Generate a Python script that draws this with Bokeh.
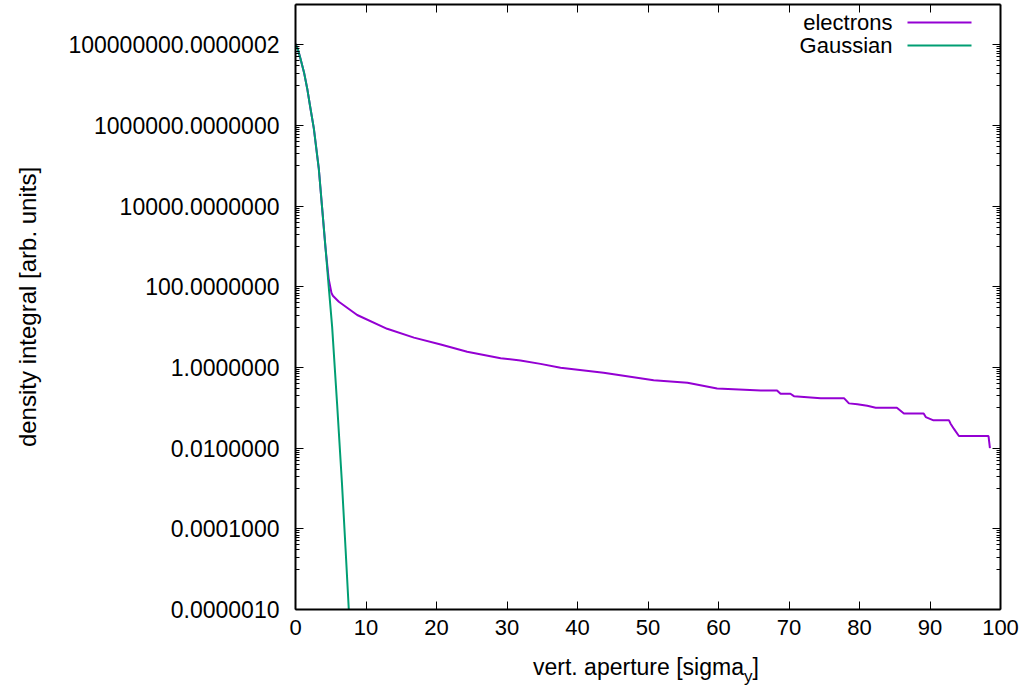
from bokeh.plotting import figure
from bokeh.models import (FixedTicker, LogAxis, LinearAxis, Label, BoxAnnotation, Range1d,
                          CustomLabelingPolicy, Div)
from bokeh.layouts import column
from bokeh.embed import file_html
from bokeh.resources import INLINE

# ---- data ----
gauss_x = [0.0, 0.35, 0.7, 1.2, 1.66, 2.1, 2.6, 3.3, 3.78, 4.26, 4.73, 5.2, 5.9, 6.6, 7.1, 7.56]
gauss_y = [1.05e8, 7.6e7, 4.6e7, 2.1e7, 8.3e6, 2.8e6, 8.5e5, 8.7e4, 8.9e3, 910, 93, 10, 0.126, 1.26e-3, 3.2e-5, 1.0e-6]

elec_x = [0.0, 0.35, 0.7, 1.2, 1.66, 2.1, 2.6, 3.3, 3.78, 4.26, 4.7, 5.1, 5.3, 6.15, 8.75, 13.0, 16.8,
          20.6, 24.35, 29.1, 31.9, 34.75, 37.6, 43.7, 50.8, 55.6, 59.8, 66.0, 68.3, 68.8, 70.2, 70.7,
          74.5, 77.8, 78.5, 79.7, 81.1, 82.3, 85.3, 86.3, 89.1, 89.4, 90.5, 92.7, 92.9, 93.4, 94.1,
          98.3, 98.5]
elec_y = [1.05e8, 7.6e7, 4.6e7, 2.1e7, 8.3e6, 2.8e6, 8.5e5, 8.7e4, 8.9e3, 910, 160, 71, 60, 42.7, 20, 9.1, 5.5,
          3.7, 2.45, 1.7, 1.5, 1.23, 0.98, 0.74, 0.48, 0.42, 0.30, 0.27, 0.27, 0.224, 0.224, 0.195,
          0.174, 0.174, 0.129, 0.123, 0.112, 0.1, 0.1, 0.072, 0.072, 0.059, 0.049, 0.049, 0.041, 0.030, 0.020,
          0.020, 0.01]

x_ticks = list(range(0, 101, 10))
y_ticks = [1e-6, 1e-4, 1e-2, 1.0, 1e2, 1e4, 1e6, 1e8]
y_tick_labels = ["0.0000010", "0.0001000", "0.0100000", "1.0000000", "100.0000000",
                 "10000.0000000", "1000000.0000000", "100000000.0000002"]
y_minor = [k * 10.0 ** m for m in (-5, -3, -1, 1, 3, 5, 7) for k in range(1, 10)]

series_names = ["electrons", "Gaussian"]
series_colors = ["#9400D3", "#009E73"]

x_title_main = "vert. aperture [sigma"
x_title_sub = "y"
x_title_end = "]"
y_title = "density integral [arb. units]"

FONT = "Liberation Sans"

p = figure(width=1029, height=650, y_axis_type="log",
           x_range=Range1d(0, 100), y_range=Range1d(1e-6, 1e9),
           output_backend="svg", toolbar_location=None,
           min_border_left=295, min_border_right=29, min_border_top=3, min_border_bottom=41)
p.grid.visible = False
p.outline_line_color = None
p.background_fill_color = "white"
p.border_fill_color = "white"
p.margin = 0

p.line(elec_x, elec_y, line_color=series_colors[0], line_width=2)
p.line(gauss_x, gauss_y, line_color=series_colors[1], line_width=2)

hide_all = CustomLabelingPolicy(code="""
for (const i of indices) { indices.unset(i) }
return indices
""")

def style(ax, size, labels=True):
    ax.axis_line_color = "black"
    ax.axis_line_width = 2
    ax.major_tick_line_color = "black"
    ax.minor_tick_line_color = "black"
    ax.major_tick_in = 8
    ax.major_tick_out = 0
    ax.minor_tick_in = 4
    ax.minor_tick_out = 0
    ax.major_label_text_font = FONT
    ax.major_label_text_color = "black"
    ax.major_label_text_font_size = size
    if not labels:
        ax.major_label_policy = hide_all
        ax.major_label_standoff = 0

xb = p.xaxis[0]
xb.ticker = FixedTicker(ticks=x_ticks, minor_ticks=[])
style(xb, "22px")
xb.major_label_standoff = 10

yl = p.yaxis[0]
yl.ticker = FixedTicker(ticks=y_ticks, minor_ticks=y_minor)
style(yl, "23px")
yl.major_label_standoff = 16
yl.major_label_overrides = {t: s for t, s in zip(y_ticks, y_tick_labels)}
yl.axis_label = y_title
yl.axis_label_text_font = FONT
yl.axis_label_text_font_size = "24px"
yl.axis_label_text_font_style = "normal"
yl.axis_label_text_color = "black"
yl.axis_label_standoff = 24

xt = LinearAxis(ticker=FixedTicker(ticks=x_ticks, minor_ticks=[]))
style(xt, "1px", labels=False)
p.add_layout(xt, "above")

yr = LogAxis(ticker=FixedTicker(ticks=y_ticks, minor_ticks=y_minor))
style(yr, "1px", labels=False)
p.add_layout(yr, "right")

# legend (label then sample, gnuplot style)
for i, (name, col) in enumerate(zip(series_names, series_colors)):
    yc = 587 - 23 * i
    p.add_layout(Label(x=597, y=yc, x_units="screen", y_units="screen", text=name,
                       text_font=FONT, text_font_size="22px", text_color="black",
                       text_align="right", text_baseline="middle"))
    p.add_layout(BoxAnnotation(left=612, right=676, bottom=yc - 1, top=yc + 1,
                               left_units="screen", right_units="screen",
                               bottom_units="screen", top_units="screen",
                               fill_color=col, fill_alpha=1.0, line_color=None))

# x-axis title (with subscript) below the plot
xtitle = Div(
    text=(f'<div style="padding-left:533px;padding-top:6px;font-family:\'{FONT}\';'
          f'font-size:23px;line-height:23px;color:black;white-space:nowrap;">'
          f'{x_title_main}<span style="font-size:17px;position:relative;top:7px;">{x_title_sub}</span>'
          f'{x_title_end}</div>'),
    width=1029, height=38, margin=0)

layout = column(p, xtitle, spacing=0)
layout.margin = 0

open("out.html", "w").write(file_html(layout, INLINE))
